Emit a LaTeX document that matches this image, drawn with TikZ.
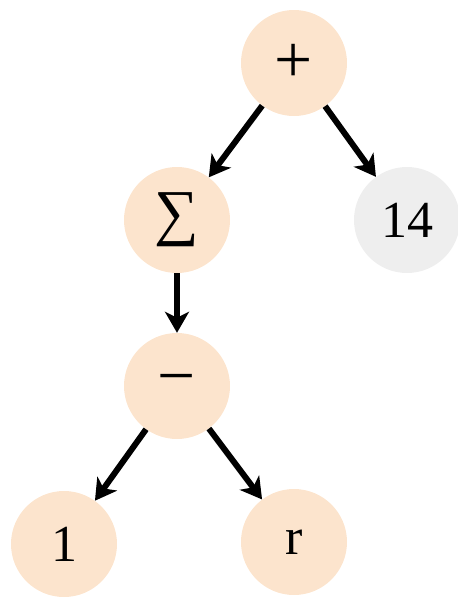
\documentclass[tikz,border=0pt]{standalone}
\usepackage{fontspec}
\setmainfont{Liberation Serif}
\usetikzlibrary{arrows.meta}
\definecolor{peach}{HTML}{FCE4CD}
\definecolor{palegray}{HTML}{EEEEEE}
\begin{document}
\begin{tikzpicture}[x=1pt,y=-1pt,
  treenode/.style={circle,fill=peach,draw=none,minimum size=106pt,inner sep=0pt,
    font=\fontsize{52}{56}\selectfont},
  leafgray/.style={treenode,fill=palegray},
  link/.style={line width=6pt,-{Stealth[length=21pt,width=24pt,inset=6pt]}}]
  \useasboundingbox (0,0) rectangle (458,598);
  \node[treenode] (plus)  at (294,63)  {\scalebox{1.3}{+}};
  \node[treenode] (sum)   at (177,220) {\scalebox{1.2}{∑}};
  \node[leafgray] (n14)   at (407,220) {14};
  \node[treenode] (minus) at (177,386) {\scalebox{1.3}{−}};
  \node[treenode] (one)   at (64,544)  {1};
  \node[treenode] (r)     at (294,542) {r};
  \draw[link] (plus) -- (sum);
  \draw[link] (plus) -- (n14);
  \draw[link] (sum) -- (minus);
  \draw[link] (minus) -- (one);
  \draw[link] (minus) -- (r);
\end{tikzpicture}
\end{document}
